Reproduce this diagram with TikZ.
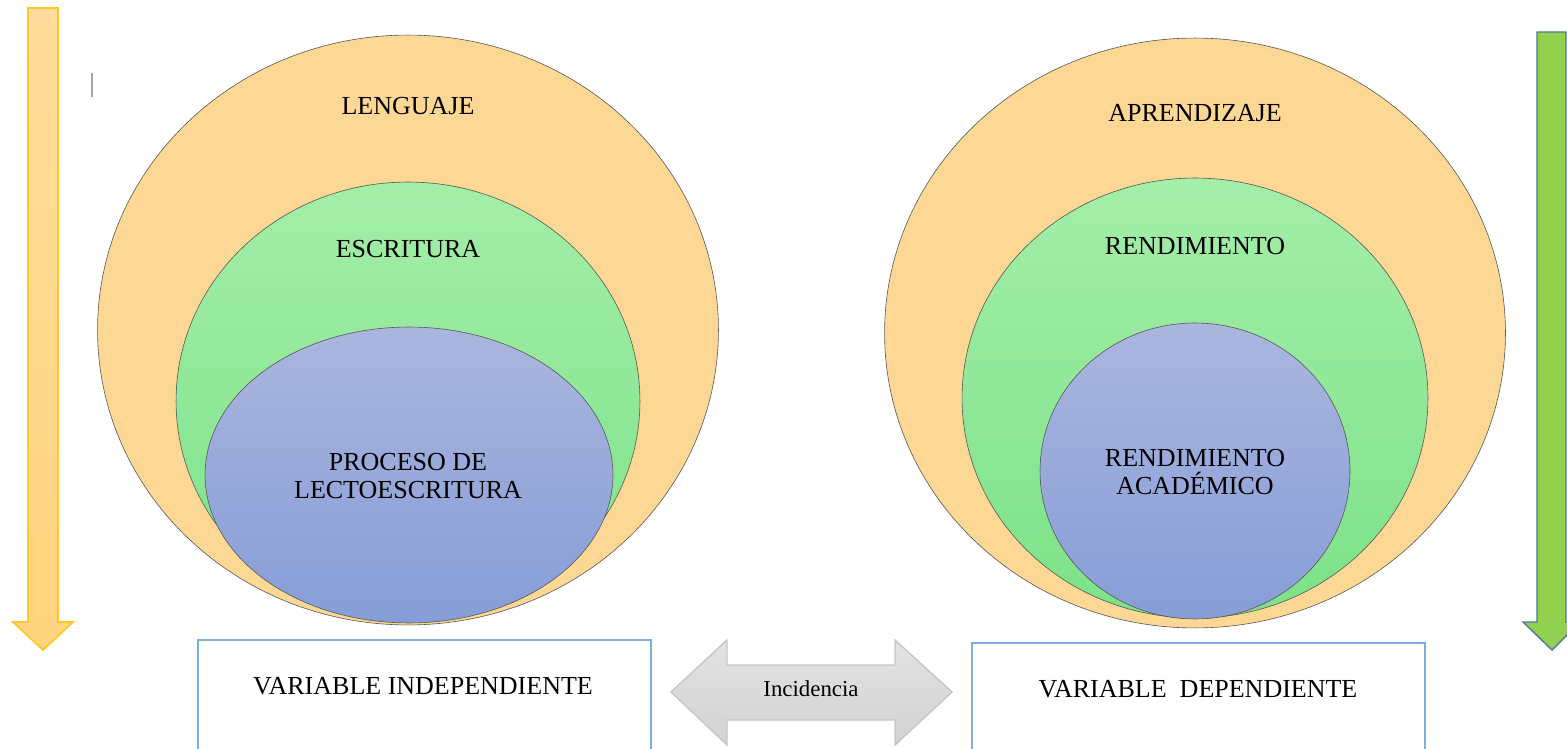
\documentclass[tikz,border=0pt]{standalone}
\usepackage{fontspec}
\setmainfont{Liberation Serif}
\usetikzlibrary{shapes.geometric}

\definecolor{naranja}{RGB}{253,216,148}
\definecolor{verdeA}{RGB}{164,238,168}
\definecolor{verdeB}{RGB}{124,226,136}
\definecolor{azulA}{RGB}{170,182,222}
\definecolor{azulB}{RGB}{134,157,215}
\definecolor{oroborde}{RGB}{255,200,40}
\definecolor{oroA}{RGB}{255,220,155}
\definecolor{oroB}{RGB}{255,212,125}
\definecolor{verdeflecha}{RGB}{146,208,80}
\definecolor{bordeazul}{RGB}{80,120,160}
\definecolor{cajaborde}{RGB}{125,172,225}

\begin{document}
\begin{tikzpicture}[x=0.02cm, y=-0.02cm,
    ring/.style={ellipse, draw=black!65, line width=0.35pt, inner sep=0pt},
    lbl/.style={font=\fontsize{14.8}{16}\selectfont, align=center, inner sep=0pt}]

    \useasboundingbox (0,0) rectangle (1567,749);

    % big arrows at the sides
    \draw[oroborde, line width=1pt, top color=oroA, bottom color=oroB]
        (28,8) -- (58,8) -- (58,622) -- (73,622) -- (43,650) -- (13,622) -- (28,622) -- cycle;
    \draw[bordeazul, line width=0.8pt, fill=verdeflecha]
        (1537,32) -- (1566,32) -- (1566,622) -- (1580,622) -- (1552,650) -- (1523,622) -- (1537,622) -- cycle;
    \draw[gray!70, line width=1pt] (92,73) -- (92,97);

    % left circles
    \node[ring, fill=naranja, minimum width=12.42cm, minimum height=11.8cm] (lenguaje) at (408,330) {};
    \node[ring, top color=verdeA, bottom color=verdeB, minimum width=9.28cm, minimum height=8.76cm] (escritura) at (408,401) {};
    \node[ring, top color=azulA, bottom color=azulB, minimum width=8.16cm, minimum height=5.92cm] (proceso) at (409,475) {};
    \node[lbl] (tlenguaje) at (408,106) {LENGUAJE};
    \node[lbl] (tescritura) at (408,249) {ESCRITURA};
    \node[lbl] (tproceso) at (408,476) {PROCESO DE\\LECTOESCRITURA};

    % right circles
    \node[ring, fill=naranja, minimum width=12.42cm, minimum height=11.8cm] (aprendizaje) at (1195,333) {};
    \node[ring, top color=verdeA, bottom color=verdeB, minimum width=9.32cm, minimum height=8.8cm] (rendimiento) at (1195,398) {};
    \node[ring, top color=azulA, bottom color=azulB, minimum width=6.2cm, minimum height=5.92cm] (academico) at (1195,471) {};
    \node[lbl] (taprendizaje) at (1195,113) {APRENDIZAJE};
    \node[lbl] (trendimiento) at (1195,246) {RENDIMIENTO};
    \node[lbl] (tacademico) at (1195,472) {RENDIMIENTO\\ACADÉMICO};

    % variable boxes
    \draw[cajaborde, line width=0.8pt] (198,749) |- (651,640) -- (651,749);
    \draw[cajaborde, line width=0.8pt] (972,749) |- (1425,643) -- (1425,749);
    \node[lbl] (vind) at (423,686) {VARIABLE INDEPENDIENTE};
    \node[lbl] (vdep) at (1198,689) {VARIABLE\ \ DEPENDIENTE};

    % incidencia
    \draw[gray!45, line width=0.8pt, top color=gray!22, bottom color=gray!35]
        (671,692) -- (727,640) -- (727,665) -- (895,665) -- (895,640) -- (952,692)
        -- (895,745) -- (895,720) -- (727,720) -- (727,745) -- cycle;
    \node[lbl, font=\fontsize{13}{14}\selectfont] (incid) at (811,689) {Incidencia};

\end{tikzpicture}
\end{document}
